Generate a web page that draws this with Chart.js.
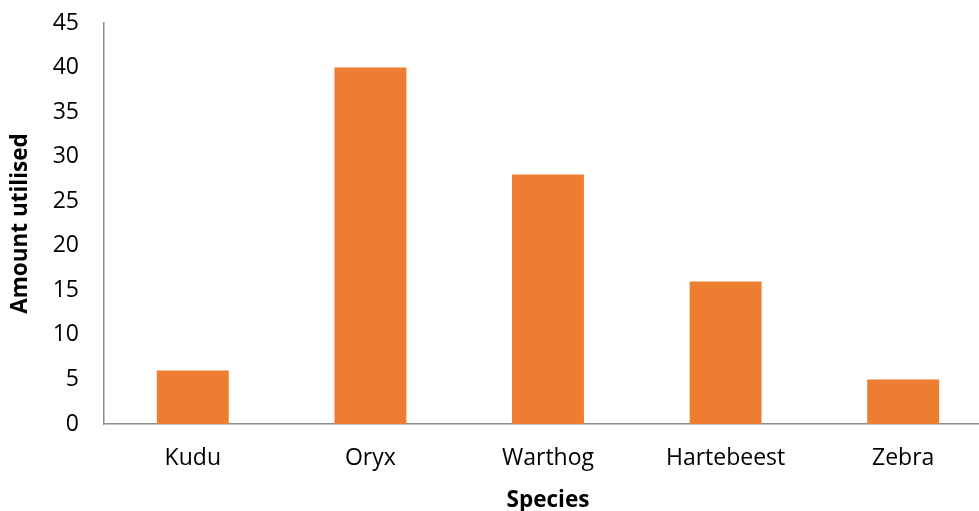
<!DOCTYPE html>
<html>
<head>
<meta charset="utf-8">
<script src="https://cdn.jsdelivr.net/npm/chart.js@4"></script>
<style>
  html, body { margin: 0; padding: 0; background: #fff; overflow: hidden; }
  #frame { width: 979px; height: 511px; overflow: hidden; }
  /* plot area runs a little past the right edge, as in the source image */
  #wrap { width: 992px; height: 511px; }
</style>
</head>
<body>
<div id="frame"><div id="wrap"><canvas id="speciesChart"></canvas></div></div>
<script>
// ── data ──────────────────────────────────────────────────────────────────
const species = ["Kudu", "Oryx", "Warthog", "Hartebeest", "Zebra"];
const amountUtilised = [6, 40, 28, 16, 5];
const yMax = 45;
const yStep = 5;

const FONT = "'Open Sans', 'Noto Sans', sans-serif";

new Chart(document.getElementById("speciesChart"), {
  type: "bar",
  data: {
    labels: species,
    datasets: [
      {
        label: "Amount utilised",
        data: amountUtilised,
        backgroundColor: "#ED7D31",
        barPercentage: 1,
        categoryPercentage: 0.405,
      },
    ],
  },
  options: {
    responsive: true,
    maintainAspectRatio: false,
    animation: false,
    layout: { padding: { top: 23, right: 0, bottom: 0, left: 0 } },
    plugins: {
      legend: { display: false },
      tooltip: { enabled: false },
    },
    scales: {
      x: {
        grid: { display: false, drawTicks: false },
        border: { display: true, color: "#8C8C8C", width: 1.5 },
        ticks: { color: "#000", font: { family: FONT, size: 23 }, padding: 21 },
        title: {
          display: true,
          text: "Species",
          color: "#000",
          font: { family: FONT, size: 22.5, weight: "bold" },
          padding: { top: 0, bottom: -3 },
        },
        afterFit: (scale) => { scale.height = 87; },
      },
      y: {
        min: 0,
        max: yMax,
        grid: { display: false, drawTicks: false },
        border: { display: true, color: "#8C8C8C", width: 1.5 },
        ticks: {
          stepSize: yStep,
          color: "#000",
          font: { family: FONT, size: 23 },
          padding: 25,
        },
        title: {
          display: true,
          text: "Amount utilised",
          color: "#000",
          font: { family: FONT, size: 22.5, weight: "bold" },
          padding: { top: 7, bottom: 0 },
        },
        afterFit: (scale) => {
          scale.width = 104;
          // don't let tick padding push the plot top down
          scale.paddingTop = 10;
          scale.paddingBottom = 10;
        },
      },
    },
  },
});
</script>
</body>
</html>
